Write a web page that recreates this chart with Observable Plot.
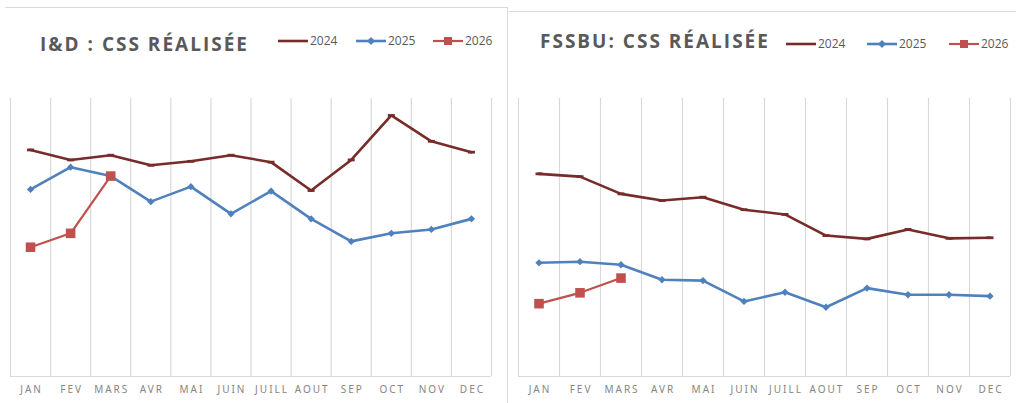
<!DOCTYPE html>
<html><head><meta charset="utf-8">
<script src="https://cdn.jsdelivr.net/npm/d3@7"></script>
<script src="https://cdn.jsdelivr.net/npm/@observablehq/plot@0.6"></script>
<style>
body{margin:0;background:#fff;}
#root{position:relative;width:1016px;height:403px;overflow:hidden;font-family:"Open Sans",sans-serif;background:#fff;}
.panel{position:absolute;top:0;width:508px;height:403px;}
#p1{left:0;}
#p2{left:508px;}
.b1{position:absolute;left:5px;top:7px;width:502px;height:400px;border-top:1px solid #d9d9d9;border-right:1px solid #d9d9d9;}
.b2{position:absolute;left:509px;top:11px;width:507px;height:0;border-top:1px solid #d9d9d9;}
.title{position:absolute;font-weight:700;color:#595959;font-size:19px;letter-spacing:2px;white-space:nowrap;line-height:1;}
.leg{position:absolute;display:flex;align-items:center;font-size:12px;color:#595959;white-space:nowrap;line-height:1;}
.leg svg{display:block;margin-right:2px;}
.panel svg.plot text{letter-spacing:2px;}
</style></head>
<body><div id="root">
<div class="b1"></div><div class="b2"></div>
<div class="panel" id="p1"></div>
<div class="panel" id="p2"></div>
</div>
<script>
const months = ["JAN","FEV","MARS","AVR","MAI","JUIN","JUILL","AOUT","SEP","OCT","NOV","DEC"];
const years = ["2024","2025","2026"];
const colors = ["#772C2A","#4F81BD","#C0504D"];

// I&D panel (relative index values)
const id2024 = [81.5,77.9,79.6,76.0,77.4,79.6,77.1,66.9,77.9,93.9,84.6,80.7];
const id2025 = [67.3,75.3,72.1,62.9,68.3,58.5,66.7,56.7,48.6,51.5,52.9,56.7];
const id2026 = [46.5,51.5,72.1];

// FSSBU panel
const fs2024 = [72.9,71.9,65.7,63.3,64.5,60.0,58.3,50.7,49.5,52.9,49.7,49.9];
const fs2025 = [40.9,41.3,40.2,34.8,34.5,27.0,30.3,24.9,31.8,29.4,29.4,28.9];
const fs2026 = [26.2,30.1,35.4];

function table(series){
  const out=[];
  series.forEach((vals,k)=>vals.forEach((v,i)=>out.push({i, v, year: years[k]})));
  return out;
}

const dash = {draw(ctx, size){ const r=Math.sqrt(size/Math.PI); ctx.moveTo(-r,-1.4); ctx.lineTo(r,-1.4); ctx.lineTo(r,1.4); ctx.lineTo(-r,1.4); ctx.closePath(); }};

function makePanel(el, title, titlePos, legendXs, legendY, series, marginRight){
  const data = table(series);
  const byYear = y => data.filter(d=>d.year===y);
  const plot = Plot.plot({
    width: 508, height: 403,
    marginLeft: 10, marginRight, marginTop: 98, marginBottom: 27,
    x: {type:"linear", domain:[-0.5, months.length-0.5]},
    y: {domain:[0,100], axis:null},
    marks: [
      Plot.ruleX(d3.range(months.length+1).map(i=>i-0.5), {stroke:"#d9d9d9", strokeWidth:1.2}),
      Plot.ruleY([0], {stroke:"#d9d9d9", strokeWidth:1.2}),
      Plot.axisX(d3.range(months.length), {tickFormat: i=>months[i], tickSize:0, tickPadding:9, fontSize:10, fill:"#858585", label:null, dx:1}),
      Plot.line(byYear("2024"), {x:"i", y:"v", stroke:colors[0], strokeWidth:2.6}),
      Plot.dot(byYear("2024"), {x:"i", y:"v", symbol:dash, r:3.5, fill:colors[0], stroke:"none"}),
      Plot.line(byYear("2025"), {x:"i", y:"v", stroke:colors[1], strokeWidth:2.6}),
      Plot.dot(byYear("2025"), {x:"i", y:"v", symbol:"diamond2", r:3.3, fill:colors[1], stroke:"none"}),
      Plot.line(byYear("2026"), {x:"i", y:"v", stroke:colors[2], strokeWidth:2.2}),
      Plot.dot(byYear("2026"), {x:"i", y:"v", symbol:"square", r:5.4, fill:colors[2], stroke:"none"})
    ]
  });
  plot.classList.add("plot");
  plot.style.position="absolute"; plot.style.left="0"; plot.style.top="0";
  el.appendChild(plot);
  const t=document.createElement("div");
  t.className="title"; t.textContent=title;
  t.style.left=titlePos[0]+"px"; t.style.top=titlePos[1]+"px";
  el.appendChild(t);
  years.forEach((y,k)=>{
    const d=document.createElement("div");
    d.className="leg";
    d.style.left=legendXs[k]+"px"; d.style.top=legendY+"px";
    let marker="";
    if(k===1) marker='<path d="M15,2 L19,6 L15,10 L11,6 Z" fill="'+colors[1]+'"/>';
    if(k===2) marker='<rect x="11" y="2" width="8" height="8" fill="'+colors[2]+'"/>';
    d.innerHTML='<svg width="30" height="12"><line x1="0" x2="30" y1="6" y2="6" stroke="'+colors[k]+'" stroke-width="'+(k===2?2.2:2.6)+'"/>'+marker+'</svg><span>'+y+'</span>';
    el.appendChild(d);
  });
}

makePanel(document.getElementById("p1"), "I&D : CSS RÉALISÉE", [40,35], [278,356,433], 35, [id2024,id2025,id2026], 17);
makePanel(document.getElementById("p2"), "FSSBU: CSS RÉALISÉE", [32,32], [278,359,441], 38, [fs2024,fs2025,fs2026], 6);
</script>
</body></html>
